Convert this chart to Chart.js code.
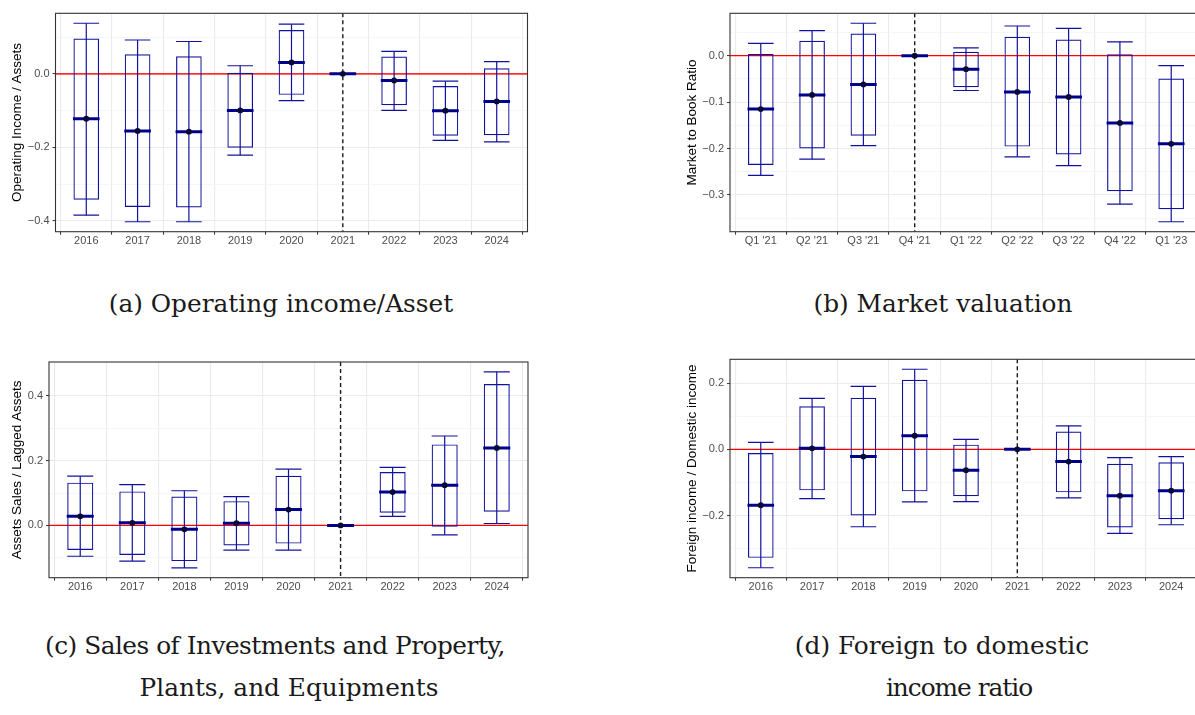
<!DOCTYPE html>
<html>
<head>
<meta charset="utf-8">
<script src="https://cdn.jsdelivr.net/npm/chart.js@4.4.1/dist/chart.umd.min.js"></script>
<style>
  html, body { margin: 0; padding: 0; background: #ffffff; }
  body { width: 1195px; height: 715px; overflow: hidden; position: relative; }
  canvas { position: absolute; }
  .cap { position: absolute; width: 600px; text-align: center; font-family: "DejaVu Serif", "Liberation Serif", serif;
         font-size: 24.8px; line-height: 1; color: #1a1a1a; white-space: nowrap; }
</style>
</head>
<body>
<canvas id="pa"></canvas>
<canvas id="pb"></canvas>
<canvas id="pc"></canvas>
<canvas id="pd"></canvas>
<div class="cap" style="left:-19px; top:292px;">(a) Operating income/Asset</div>
<div class="cap" style="left:643px; top:292px;">(b) Market valuation</div>
<div class="cap" style="left:-25px; top:634px; letter-spacing:-0.5px;">(c) Sales of Investments and Property,</div>
<div class="cap" style="left:-11px; top:676px;">Plants, and Equipments</div>
<div class="cap" style="left:642px; top:634px;">(d) Foreign to domestic</div>
<div class="cap" style="left:659px; top:676px; letter-spacing:-1px;">income ratio</div>
<script>
// ---------------- categories ----------------
const yearCats = ['2016','2017','2018','2019','2020','2021','2022','2023','2024'];
const quarterCats = ["Q1 '21","Q2 '21","Q3 '21","Q4 '21","Q1 '22","Q2 '22","Q3 '22","Q4 '22","Q1 '23"];

// ---------------- (a) Operating income / Assets ----------------
const a_whiskerLow  = [-0.384,-0.402,-0.402,-0.221,-0.073,0,-0.099,-0.181,-0.185];
const a_boxLow      = [-0.342,-0.362,-0.363,-0.201,-0.057,0,-0.085,-0.168,-0.167];
const a_median      = [-0.122,-0.155,-0.157,-0.0995,0.031,0,-0.018,-0.100,-0.075];
const a_boxHigh     = [0.096,0.053,0.048,0.003,0.119,0,0.047,-0.033,0.015];
const a_whiskerHigh = [0.1376,0.092,0.088,0.022,0.135,0,0.061,-0.020,0.033];
const a_yMajor  = [-0.4,-0.2,0.0];
const a_yLabels = ['\u22120.4','\u22120.2','0.0'];
const a_yMinor  = [-0.3,-0.1,0.1];

// ---------------- (b) Market to Book Ratio ----------------
const b_whiskerLow  = [-0.258,-0.223,-0.194,0,-0.075,-0.218,-0.237,-0.320,-0.358];
const b_boxLow      = [-0.2355,-0.200,-0.1725,0,-0.068,-0.196,-0.213,-0.292,-0.331];
const b_median      = [-0.115,-0.0845,-0.062,0,-0.029,-0.078,-0.089,-0.145,-0.190];
const b_boxHigh     = [0.0036,0.032,0.048,0,0.0086,0.041,0.035,0.003,-0.049];
const b_whiskerHigh = [0.0265,0.054,0.070,0,0.017,0.064,0.059,0.030,-0.0215];
const b_yMajor  = [-0.3,-0.2,-0.1,0.0];
const b_yLabels = ['\u22120.3','\u22120.2','\u22120.1','0.0'];
const b_yMinor  = [-0.35,-0.25,-0.15,-0.05,0.05];

// ---------------- (c) Assets Sales / Lagged Assets ----------------
const c_whiskerLow  = [-0.095,-0.110,-0.131,-0.076,-0.076,0,0.028,-0.029,0.006];
const c_boxLow      = [-0.076,-0.091,-0.110,-0.062,-0.056,0,0.039,-0.004,0.0425];
const c_median      = [0.028,0.008,-0.012,0.007,0.049,0,0.103,0.124,0.239];
const c_boxHigh     = [0.132,0.105,0.089,0.075,0.153,0,0.165,0.250,0.436];
const c_whiskerHigh = [0.152,0.126,0.107,0.089,0.174,0,0.179,0.276,0.474];
const c_yMajor  = [0.0,0.2,0.4];
const c_yLabels = ['0.0','0.2','0.4'];
const c_yMinor  = [-0.1,0.1,0.3];

// ---------------- (d) Foreign income / Domestic income ----------------
const d_whiskerLow  = [-0.358,-0.149,-0.234,-0.159,-0.158,0,-0.147,-0.254,-0.228];
const d_boxLow      = [-0.328,-0.124,-0.200,-0.127,-0.142,0,-0.130,-0.236,-0.211];
const d_median      = [-0.169,0.003,-0.022,0.041,-0.063,0,-0.037,-0.140,-0.125];
const d_boxHigh     = [-0.011,0.130,0.156,0.210,0.014,0,0.054,-0.044,-0.039];
const d_whiskerHigh = [0.021,0.154,0.190,0.242,0.030,0,0.071,-0.025,-0.022];
const d_yMajor  = [-0.2,0.0,0.2];
const d_yLabels = ['\u22120.2','0.0','0.2'];
const d_yMinor  = [-0.3,-0.1,0.1];

// reference period index (dashed line) and reference value (red line)
const a_refIndex = 5, b_refIndex = 3, c_refIndex = 5, d_refIndex = 5;
const refValue = 0;

// ---------------- styling ----------------
const NAVY = '#00008B';
const WHISKER = '#12129E';
const TICK_FONT = { family: '"Liberation Sans", Arial, Helvetica, sans-serif', size: 11, lineHeight: 1 };
const TITLE_FONT = { family: '"Liberation Sans", Arial, Helvetica, sans-serif', size: 13.5, lineHeight: 1.2 };

const refLinesPlugin = {
  id: 'refLines',
  beforeDatasetsDraw(chart, args, opts) {
    const { ctx, chartArea: ar, scales: { x, y } } = chart;
    ctx.save();
    ctx.beginPath(); ctx.rect(ar.left, ar.top, ar.right - ar.left, ar.bottom - ar.top); ctx.clip();
    // vertical dashed reference line
    const px = x.getPixelForValue(opts.xIndex);
    ctx.strokeStyle = '#1a1a1a'; ctx.lineWidth = 1.4; ctx.setLineDash([4, 3]);
    ctx.beginPath(); ctx.moveTo(px, ar.top); ctx.lineTo(px, ar.bottom); ctx.stroke();
    ctx.setLineDash([]);
    // horizontal red reference line
    const py = y.getPixelForValue(opts.yValue);
    ctx.strokeStyle = opts.redColor; ctx.lineWidth = opts.redWidth;
    ctx.beginPath(); ctx.moveTo(ar.left, py); ctx.lineTo(ar.right, py); ctx.stroke();
    ctx.restore();
  },
  afterDraw(chart) {
    const { ctx, chartArea: ar } = chart;
    ctx.save();
    ctx.strokeStyle = '#333333'; ctx.lineWidth = 1.1;
    ctx.strokeRect(ar.left, ar.top, ar.right - ar.left, ar.bottom - ar.top);
    ctx.restore();
  }
};

function near(list, v) { return list.findIndex(t => Math.abs(t - v) < 1e-9); }

function makePanel(cfg) {
  const cv = document.getElementById(cfg.id);
  cv.style.left = cfg.canvas.x + 'px'; cv.style.top = cfg.canvas.y + 'px';
  cv.width = cfg.canvas.w; cv.height = cfg.canvas.h;
  cv.style.width = cfg.canvas.w + 'px'; cv.style.height = cfg.canvas.h + 'px';

  const n = cfg.cats.length;
  const padL = 2, xAxisH = 22;
  const yAxisW = cfg.area.left - cfg.canvas.x - padL;
  const titleLH = TITLE_FONT.size * TITLE_FONT.lineHeight;
  const titlePadTop = cfg.titleCX - (cfg.canvas.x + padL) - titleLH / 2;

  // ggplot-style 5% expansion of the data range (0 is always included by the reference line)
  const all = cfg.wLo.concat(cfg.wHi, [refValue]);
  const dMin = Math.min(...all), dMax = Math.max(...all);
  const span = dMax - dMin;
  const yMin = dMin - 0.05 * span, yMax = dMax + 0.05 * span;

  const halfBox = (ctx) => {
    const xs = ctx.chart.scales.x;
    return 0.25 * (xs.getPixelForValue(1) - xs.getPixelForValue(0));
  };

  const idx = cfg.cats.map((_, i) => i);
  const caps = [];
  idx.forEach(i => { caps.push({ x: i, y: cfg.wLo[i] }); caps.push({ x: i, y: cfg.wHi[i] }); });

  const datasets = [
    { // point estimate
      type: 'line', showLine: false, order: 0,
      data: idx.map(i => ({ x: i, y: cfg.med[i] })),
      pointStyle: 'circle', pointRadius: 2.9, pointHoverRadius: 2.9,
      pointBackgroundColor: '#0a0a35', pointBorderColor: '#0a0a35', pointBorderWidth: 0
    },
    { // median bar
      type: 'line', showLine: false, order: 1,
      data: idx.map(i => ({ x: i, y: cfg.med[i] })),
      pointStyle: 'line', pointRadius: (c) => halfBox(c) + 0.5, pointHoverRadius: (c) => halfBox(c) + 0.5,
      pointBorderColor: NAVY, pointBorderWidth: 3, pointBackgroundColor: NAVY
    },
    { // whisker caps
      type: 'line', showLine: false, order: 2,
      data: caps,
      pointStyle: 'line', pointRadius: (c) => halfBox(c), pointHoverRadius: (c) => halfBox(c),
      pointBorderColor: WHISKER, pointBorderWidth: 1.2, pointBackgroundColor: WHISKER
    },
    { // whisker
      type: 'bar', order: 3, grouped: false,
      data: idx.map(i => ({ x: i, y: [cfg.wLo[i], cfg.wHi[i]] })),
      barThickness: 1.2, backgroundColor: WHISKER, borderWidth: 0, inflateAmount: 0
    },
    { // inter-quantile box
      type: 'bar', order: 4, grouped: false,
      data: idx.map(i => ({ x: i, y: [cfg.bLo[i], cfg.bHi[i]] })),
      barPercentage: 0.5, categoryPercentage: 1,
      backgroundColor: 'rgba(0,0,0,0)', borderColor: WHISKER, borderWidth: 1.2,
      borderSkipped: false, inflateAmount: 0
    }
  ];

  return new Chart(cv, {
    type: 'bar',
    data: { datasets },
    plugins: [refLinesPlugin],
    options: {
      responsive: false, animation: false, devicePixelRatio: 1, events: [],
      layout: { padding: {
        left: padL,
        top: cfg.area.top - cfg.canvas.y,
        right: cfg.canvas.x + cfg.canvas.w - cfg.area.right,
        bottom: cfg.canvas.y + cfg.canvas.h - cfg.area.bottom - xAxisH
      } },
      plugins: {
        legend: { display: false }, tooltip: { enabled: false },
        refLines: { yValue: refValue, xIndex: cfg.refIndex, redColor: cfg.redColor, redWidth: cfg.redWidth }
      },
      scales: {
        x: {
          type: 'linear', min: -0.6, max: n - 1 + 0.6, offset: false,
          afterBuildTicks: (s) => { s.ticks = idx.map(i => ({ value: i })); },
          afterFit: (s) => { s.height = xAxisH; },
          ticks: { callback: (v) => cfg.cats[Math.round(v)], color: '#4D4D4D', font: TICK_FONT,
                   padding: 1, autoSkip: false, maxRotation: 0, minRotation: 0 },
          grid: { color: '#EBEBEB', lineWidth: 1.1, drawTicks: true, tickLength: 3, tickColor: '#333333', tickWidth: 1 },
          border: { display: false }
        },
        y: {
          type: 'linear', min: yMin, max: yMax,
          afterBuildTicks: (s) => {
            s.ticks = cfg.yMajor.concat(cfg.yMinor).sort((p, q) => p - q).map(v => ({ value: v }));
          },
          afterFit: (s) => { s.width = yAxisW; },
          ticks: {
            callback: (v) => { const k = near(cfg.yMajor, v); return k >= 0 ? cfg.yLabels[k] : ''; },
            color: '#4D4D4D', font: TICK_FONT, padding: 3
          },
          grid: {
            color: (c) => near(cfg.yMajor, c.tick.value) >= 0 ? '#EBEBEB' : '#F2F2F2',
            lineWidth: (c) => near(cfg.yMajor, c.tick.value) >= 0 ? 1.1 : 0.7,
            drawTicks: true, tickLength: 3, tickWidth: 1,
            tickColor: (c) => near(cfg.yMajor, c.tick.value) >= 0 ? '#333333' : 'rgba(0,0,0,0)'
          },
          border: { display: false },
          title: { display: true, text: cfg.yTitle, color: '#000000', font: TITLE_FONT, padding: { top: titlePadTop, bottom: 0 } }
        }
      }
    }
  });
}

makePanel({ id: 'pa', cats: yearCats, wLo: a_whiskerLow, bLo: a_boxLow, med: a_median, bHi: a_boxHigh, wHi: a_whiskerHigh,
  yMajor: a_yMajor, yLabels: a_yLabels, yMinor: a_yMinor, refIndex: a_refIndex, yTitle: 'Operating Income / Assets',
  canvas: { x: 0, y: 0, w: 545, h: 262 }, area: { left: 55.5, top: 13.3, right: 527.5, bottom: 231.7 }, titleCX: 17.2,
  redColor: '#FF3030', redWidth: 1.8 });

makePanel({ id: 'pb', cats: quarterCats, wLo: b_whiskerLow, bLo: b_boxLow, med: b_median, bHi: b_boxHigh, wHi: b_whiskerHigh,
  yMajor: b_yMajor, yLabels: b_yLabels, yMinor: b_yMinor, refIndex: b_refIndex, yTitle: 'Market to Book Ratio',
  canvas: { x: 665, y: 0, w: 545, h: 262 }, area: { left: 730, top: 13.3, right: 1202, bottom: 231.7 }, titleCX: 692,
  redColor: '#FF0000', redWidth: 1.3 });

makePanel({ id: 'pc', cats: yearCats, wLo: c_whiskerLow, bLo: c_boxLow, med: c_median, bHi: c_boxHigh, wHi: c_whiskerHigh,
  yMajor: c_yMajor, yLabels: c_yLabels, yMinor: c_yMinor, refIndex: c_refIndex, yTitle: 'Assets Sales / Lagged Assets',
  canvas: { x: 0, y: 345, w: 545, h: 262 }, area: { left: 49, top: 362, right: 528, bottom: 577.7 }, titleCX: 17,
  redColor: '#FF0000', redWidth: 1.2 });

makePanel({ id: 'pd', cats: yearCats, wLo: d_whiskerLow, bLo: d_boxLow, med: d_median, bHi: d_boxHigh, wHi: d_whiskerHigh,
  yMajor: d_yMajor, yLabels: d_yLabels, yMinor: d_yMinor, refIndex: d_refIndex, yTitle: 'Foreign income / Domestic income',
  canvas: { x: 665, y: 345, w: 545, h: 262 }, area: { left: 730, top: 359.3, right: 1202, bottom: 577.7 }, titleCX: 692,
  redColor: '#FF0000', redWidth: 1.2 });
</script>
</body>
</html>
